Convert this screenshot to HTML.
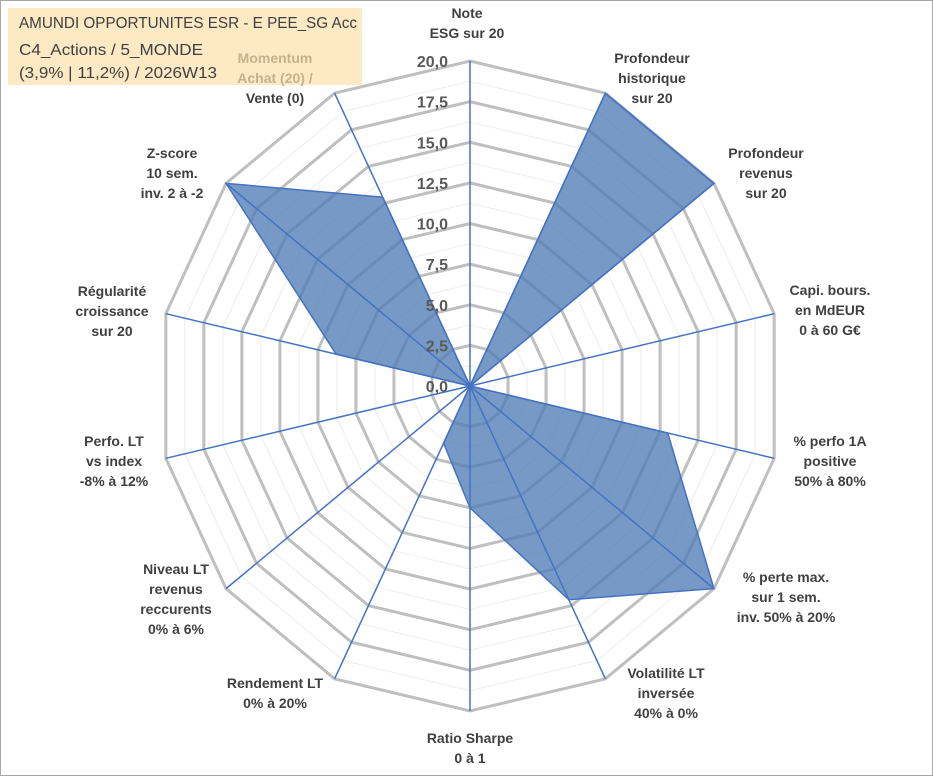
<!DOCTYPE html>
<html><head><meta charset="utf-8"><style>
body{margin:0;background:#fff}
#wrap{position:relative;width:933px;height:776px;overflow:hidden;font-family:"Liberation Sans",sans-serif}
svg text{font-family:"Liberation Sans",sans-serif}
</style></head><body>
<div id="wrap">
<svg id="chart" width="933" height="776">
<rect x="0.5" y="0.5" width="932" height="775" fill="#fff" stroke="#a6a6a6"/>
<rect x="8" y="8" width="354" height="77" fill="#fde9c3"/>
<g id="grid"></g><g id="series"></g><g id="axes"></g><g id="ticks"></g><g id="labels"></g>
<text x="19" y="28" font-size="16" fill="#404040" textLength="338" lengthAdjust="spacingAndGlyphs">AMUNDI OPPORTUNITES ESR - E PEE_SG Acc</text>
<text x="19" y="55" font-size="16" fill="#404040" textLength="184" lengthAdjust="spacingAndGlyphs">C4_Actions / 5_MONDE</text>
<text x="19" y="78" font-size="16" fill="#404040" textLength="198" lengthAdjust="spacingAndGlyphs">(3,9% | 11,2%) / 2026W13</text>
</svg>
</div>
<script>
const categories=["Note|ESG sur 20","Profondeur|historique|sur 20","Profondeur|revenus|sur 20","Capi. bours.|en MdEUR|0 à 60 G€","% perfo 1A|positive|50% à 80%","% perte max.|sur 1 sem.|inv. 50% à 20%","Volatilité LT|inversée|40% à 0%","Ratio Sharpe|0 à 1","Rendement LT|0% à 20%","Niveau LT|revenus|reccurents|0% à 6%","Perfo. LT|vs index|-8% à 12%","Régularité|croissance|sur 20","Z-score|10 sem.|inv. 2 à -2","Momentum|Achat (20) /|Vente (0)"];
const values=[0,20,20,0,13,20,14.6,7.5,3.9,0,0,8.8,20,12.9];
const tickLabels=["0,0","2,5","5,0","7,5","10,0","12,5","15,0","17,5","20,0"];
const labelPos=[[467,13],[652,58],[766,153],[830,290],[830,441],[786,577],[666,673],[470,738],[275,683],[176,569],[114,441],[112,291],[172,153],[275,58]];
const NS="http://www.w3.org/2000/svg";
const cx=470,cy=386,RX=312,RY=325,MAX=20,N=categories.length;
function pt(i,v){const a=i*2*Math.PI/N;return[cx+Math.sin(a)*RX*v/MAX,cy-Math.cos(a)*RY*v/MAX];}
function mk(tag,attrs,parent){const e=document.createElementNS(NS,tag);for(const k in attrs)e.setAttribute(k,attrs[k]);document.getElementById(parent).appendChild(e);return e;}
for(let s=1;s<=16;s++){const v=s*1.25;let p=[];for(let i=0;i<N;i++)p.push(pt(i,v).join(","));
const major=s%2===0;
const g=mk("polygon",{points:p.join(" "),fill:"none",stroke:major?"#bfbfbf":"#ececec","stroke-width":major?3:1},"grid");

}
let sp=values.map((v,i)=>pt(i,v).join(",")).join(" ");
const poly=mk("polygon",{points:sp,fill:"#4f7db5","fill-opacity":"0.78",stroke:"#4472c4","stroke-width":1.5},"series");


for(let i=0;i<N;i++){const q=pt(i,MAX);const l=mk("line",{x1:cx,y1:cy,x2:q[0],y2:q[1],stroke:"#4472c4","stroke-width":1.5},"axes");

}
tickLabels.forEach((t,k)=>{const v=k*2.5;const y=cy-RY*v/MAX;const e=mk("text",{x:448,y:y+6,"text-anchor":"end","font-size":16,"font-weight":"bold",fill:"#595959"},"ticks");e.textContent=t;

});
categories.forEach((c,i)=>{const lines=c.split("|");const [x,y]=labelPos[i];
const e=mk("text",{"text-anchor":"middle","font-size":14,"font-weight":"bold",fill:"#404040"},"labels");


lines.forEach((ln,j)=>{const ts=document.createElementNS(NS,"tspan");ts.setAttribute("x",x);ts.setAttribute("y",y+5+j*20);
if(i===13&&j<2)ts.setAttribute("fill","#c4b28a");ts.textContent=ln;e.appendChild(ts);});});
</script>
</body></html>
